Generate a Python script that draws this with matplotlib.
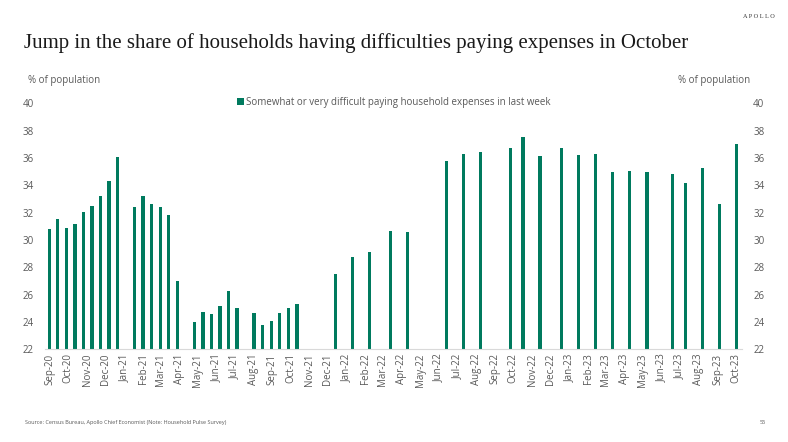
import numpy as np
import pandas as pd
import matplotlib
matplotlib.use("Agg")
import matplotlib.pyplot as plt
import matplotlib.dates as mdates

# Survey week end dates (Household Pulse Survey)
dates = pd.to_datetime([
    "2020-08-31", "2020-09-14", "2020-09-28", "2020-10-12", "2020-10-26",
    "2020-11-09", "2020-11-23", "2020-12-07", "2020-12-21", "2021-01-18",
    "2021-02-01", "2021-02-15", "2021-03-01", "2021-03-15", "2021-03-29",
    "2021-04-26", "2021-05-10", "2021-05-24", "2021-06-07", "2021-06-21",
    "2021-07-05", "2021-08-02", "2021-08-16", "2021-08-30", "2021-09-13",
    "2021-09-27", "2021-10-11", "2021-12-13", "2022-01-10", "2022-02-07",
    "2022-03-14", "2022-04-11", "2022-06-13", "2022-07-11", "2022-08-08",
    "2022-09-26", "2022-10-17", "2022-11-14", "2022-12-19", "2023-01-16",
    "2023-02-13", "2023-03-13", "2023-04-10", "2023-05-08", "2023-06-19",
    "2023-07-10", "2023-08-07", "2023-09-04", "2023-10-02",
])

# % of population finding it somewhat or very difficult to pay expenses
difficult = [
    30.8, 31.5, 30.9, 31.2, 32.05, 32.5, 33.2, 34.35, 36.1, 32.4,
    33.2, 32.6, 32.4, 31.8, 27.0, 24.0, 24.7, 24.55, 25.2, 26.3,
    25.05, 24.65, 23.8, 24.05, 24.65, 25.05, 25.3, 27.5, 28.75, 29.1,
    30.65, 30.55, 35.8, 36.3, 36.45, 36.7, 37.55, 36.15, 36.7, 36.2,
    36.3, 35.0, 35.05, 35.0, 34.8, 34.15, 35.3, 32.65, 37.05,
]

series_label = "Somewhat or very difficult paying household expenses in last week"
yticks = list(range(22, 41, 2))

green = "#007A5E"
grey = "#595959"
sans = ["Open Sans", "DejaVu Sans"]

fig = plt.figure(figsize=(7.88, 4.42), dpi=100)
ax = fig.add_axes([0.0571, 0.2097, 0.8845, 0.5566])

ax.bar(dates, [v - 22 for v in difficult], bottom=22, width=5.5,
       color=green, label=series_label)

ax.set_ylim(22, 40)
ax.set_xlim(pd.Timestamp("2020-08-24"), pd.Timestamp("2023-10-11"))
ax.set_yticks(yticks)

ax.xaxis.set_major_locator(mdates.MonthLocator())
ax.xaxis.set_major_formatter(mdates.DateFormatter("%b-%y"))
plt.setp(ax.get_xticklabels(), rotation=90, ha="center", va="top",
         fontsize=7, color=grey, family=sans)
plt.setp(ax.get_yticklabels(), fontsize=7, color=grey, family=sans)
ax.tick_params(length=0, pad=3)
ax.tick_params(axis="y", pad=8)

for s in ["top", "right", "left"]:
    ax.spines[s].set_visible(False)
ax.spines["bottom"].set_color("#D9D9D9")
ax.spines["bottom"].set_linewidth(0.8)

# Right-hand axis with the same scale
ax2 = ax.twinx()
ax2.set_ylim(22, 40)
ax2.set_yticks(yticks)
plt.setp(ax2.get_yticklabels(), fontsize=7, color=grey, family=sans)
ax2.tick_params(length=0, pad=8)
for s in ax2.spines.values():
    s.set_visible(False)

leg = ax.legend(loc="upper center", bbox_to_anchor=(0.5, 1.06), frameon=False,
                handlelength=0.7, handleheight=0.7, handletextpad=0.2,
                prop={"family": sans, "size": 7})
for t in leg.get_texts():
    t.set_color(grey)

# Titles and annotations
fig.text(0.030, 0.903, "Jump in the share of households having difficulties paying expenses in October",
         fontsize=15, family="Liberation Serif", color="#1a1a1a", va="center")
fig.text(0.983, 0.962, "A P O L L O", fontsize=4.5, family="Liberation Serif",
         color="#333333", ha="right", va="center")
fig.text(0.036, 0.818, "% of population", fontsize=7, family=sans, color=grey, va="center")
fig.text(0.952, 0.818, "% of population", fontsize=7, family=sans, color=grey,
         va="center", ha="right")
fig.text(0.032, 0.043, "Source: Census Bureau, Apollo Chief Economist (Note: Household Pulse Survey)",
         fontsize=4, family=sans, color=grey, va="center")
fig.text(0.972, 0.043, "55", fontsize=4, family=sans, color=grey, va="center", ha="right")

fig.savefig("out.png", dpi=100)
